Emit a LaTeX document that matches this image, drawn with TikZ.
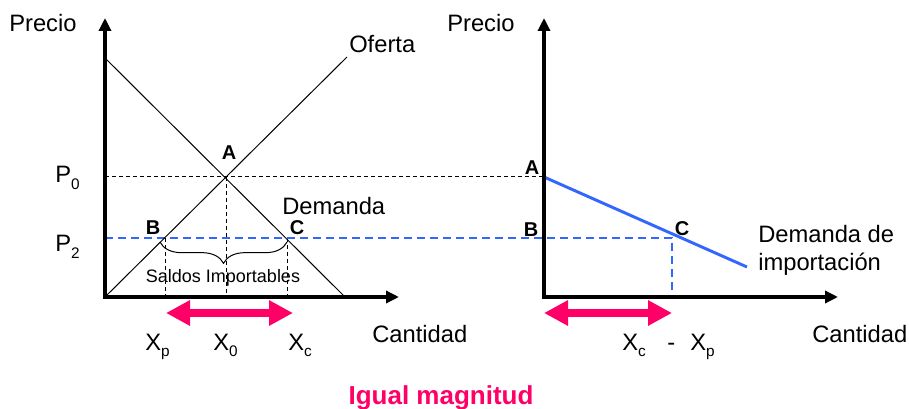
\documentclass[tikz,border=0pt]{standalone}
\usepackage{fontspec}
\setmainfont{Liberation Sans}
\usetikzlibrary{arrows.meta,decorations.pathreplacing}
\definecolor{pinkc}{RGB}{255,0,102}
\definecolor{bluec}{RGB}{51,102,255}
\newcommand{\subtx}[1]{\raisebox{-0.27em}{\fontsize{11.5pt}{12pt}\selectfont #1}}
\begin{document}
\begin{tikzpicture}[x=0.75pt,y=-0.75pt,
  lbl/.style={font=\fontsize{17.8pt}{21pt}\selectfont, inner sep=0pt, anchor=base west},
  ptlbl/.style={font=\fontsize{15pt}{17pt}\selectfont\bfseries, inner sep=0pt, anchor=base},
  axis/.style={line width=3pt, line join=miter, {Triangle[length=9.75pt,width=9pt]}-{Triangle[length=9.75pt,width=9pt]}},
  curve/.style={line width=0.75pt},
  guide/.style={line width=0.75pt, dash pattern=on 3pt off 2.25pt},
  bguide/.style={bluec, line width=1.5pt, dash pattern=on 6pt off 3.75pt},
  magn/.style={pinkc, line width=6pt, {Triangle[length=18pt,width=18pt]}-{Triangle[length=18pt,width=18pt]}},
]
\useasboundingbox (0,0) rectangle (909,409);
% coordinates
\coordinate (Lo) at (105,297);
\coordinate (Ltop) at (105,18);
\coordinate (Lright) at (399,297);
\coordinate (Ro) at (544,297);
\coordinate (Rtop) at (544,18);
\coordinate (Rright) at (838,297);
\coordinate (D1) at (105,58);
\coordinate (D2) at (345,297);
\coordinate (S2) at (347,57);
\coordinate (A) at (226,177);
\coordinate (P0a) at (105,177);
\coordinate (RA) at (544,177);
\coordinate (Af) at (226,297);
\coordinate (B) at (165,238);
\coordinate (Bf) at (165,297);
\coordinate (C) at (287,238);
\coordinate (Cf) at (287,297);
\coordinate (P2a) at (105,238);
\coordinate (RC) at (672,238);
\coordinate (RCf) at (672,297);
\coordinate (Dm) at (747,267);
\coordinate (brL) at (160,242);
\coordinate (brR) at (287,242);
\coordinate (m1a) at (166,313);
\coordinate (m1b) at (293,313);
\coordinate (m2a) at (544,313);
\coordinate (m2b) at (672,313);
% guides
\draw[guide] (P0a) -- (RA);
\draw[guide] (A) -- (Af);
\draw[guide] (B) -- (Bf);
\draw[guide] (C) -- (Cf);
\draw[bguide] (P2a) -- (RC) -- (RCf);
% curves
\draw[curve] (D1) -- (D2);
\draw[curve] (Lo) -- (S2);
\draw[bluec, line width=2.2pt] (RA) -- (Dm);
% axes
\draw[axis] (Ltop) -- (Lo) -- (Lright);
\draw[axis] (Rtop) -- (Ro) -- (Rright);
% brace
\draw[curve, decorate, decoration={brace, mirror, amplitude=16pt}] (brL) -- (brR);
% magnitude arrows
\draw[magn] (m1a) -- (m1b);
\draw[magn] (m2a) -- (m2b);
% labels
\node[lbl] (precioL) at (9,32) {Precio};
\node[lbl] (precioR) at (447,32) {Precio};
\node[lbl] (oferta) at (349,53) {Oferta};
\node[lbl] (demanda) at (282,215) {Demanda};
\node[lbl] (p0) at (55,183) {P\subtx{0}};
\node[lbl] (p2) at (55,252) {P\subtx{2}};
\node[lbl] (cantL) at (372,342) {Cantidad};
\node[lbl] (cantR) at (812,342) {Cantidad};
\node[lbl] (xp) at (145,350) {X\subtx{p}};
\node[lbl] (x0) at (213,350) {X\subtx{0}};
\node[lbl] (xc) at (288,350) {X\subtx{c}};
\node[lbl] (xcR) at (622,350) {X\subtx{c}};
\node[lbl] (minus) at (667,350) {-};
\node[lbl] (xpR) at (690,350) {X\subtx{p}};
\node[lbl] (dem1) at (758,243) {Demanda de};
\node[lbl] (dem2) at (758,271) {importación};
\node[ptlbl] (AL) at (229,160) {A};
\node[ptlbl] (BL) at (153,235) {B};
\node[ptlbl] (CL) at (297,235) {C};
\node[ptlbl] (AR) at (532,175) {A};
\node[ptlbl] (BR) at (531,237) {B};
\node[ptlbl] (CR) at (682,236) {C};
\node[font=\fontsize{13.5pt}{16pt}\selectfont, inner sep=0pt, anchor=base] (saldos) at (223,283) {Saldos Importables};
\node[font=\fontsize{19.5pt}{22pt}\selectfont\bfseries, text=pinkc, inner sep=0pt, anchor=base] (igual) at (441,404) {Igual magnitud};
\end{tikzpicture}
\end{document}
